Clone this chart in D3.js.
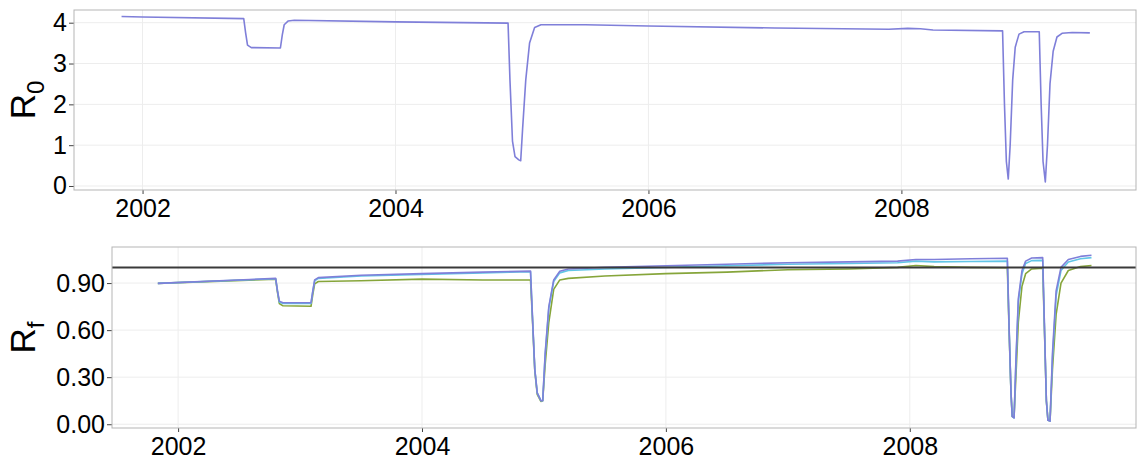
<!DOCTYPE html>
<html>
<head>
<meta charset="utf-8">
<script src="https://cdn.jsdelivr.net/npm/d3@7"></script>
<style>
  body { margin: 0; background: #fff; }
  text { font-family: "Liberation Sans", Arial, sans-serif; }
</style>
</head>
<body>
<svg id="chart" width="1139" height="463"></svg>
<script>
// ---- data (decimal years) ----
const r0Years = [2001.834, 2002.0, 2002.80, 2002.815, 2002.83, 2002.86, 2003.09, 2003.105, 2003.12, 2003.15, 2003.2,
  2004.0, 2004.89, 2004.905, 2004.925, 2004.945, 2004.975, 2004.99, 2005.005, 2005.03, 2005.06, 2005.1, 2005.15,
  2005.5, 2006.0, 2007.0, 2007.9, 2008.05, 2008.15, 2008.25, 2008.80, 2008.815, 2008.83, 2008.845, 2008.86,
  2008.88, 2008.9, 2008.93, 2008.97, 2009.09, 2009.105, 2009.12, 2009.138, 2009.155, 2009.175, 2009.2, 2009.23,
  2009.27, 2009.35, 2009.49];
const r0Values = [4.15, 4.14, 4.10, 3.75, 3.45, 3.39, 3.38, 3.70, 3.95, 4.04, 4.06,
  4.02, 3.99, 2.60, 1.10, 0.72, 0.64, 0.62, 1.40, 2.60, 3.50, 3.88, 3.95,
  3.95, 3.92, 3.87, 3.84, 3.86, 3.85, 3.82, 3.80, 2.00, 0.60, 0.17, 1.00,
  2.60, 3.40, 3.72, 3.78, 3.78, 2.00, 0.60, 0.10, 1.00, 2.50, 3.30, 3.65,
  3.74, 3.76, 3.75];

const rfYears = [2001.834, 2002.80, 2002.815, 2002.83, 2002.86, 2003.09, 2003.105, 2003.12, 2003.15, 2003.5,
  2004.0, 2004.5, 2004.89, 2004.905, 2004.925, 2004.945, 2004.975, 2004.99, 2005.01, 2005.04, 2005.08, 2005.13,
  2005.2, 2005.5, 2006.0, 2006.5, 2007.0, 2007.5, 2007.9, 2008.05, 2008.2, 2008.5, 2008.80, 2008.815, 2008.83,
  2008.84, 2008.855, 2008.87, 2008.89, 2008.92, 2008.95, 2009.0, 2009.09, 2009.105, 2009.12, 2009.133, 2009.15,
  2009.17, 2009.2, 2009.24, 2009.3, 2009.4, 2009.49];
const rfGreen = [0.898, 0.925, 0.84, 0.77, 0.755, 0.752, 0.83, 0.895, 0.91, 0.915,
  0.925, 0.92, 0.92, 0.68, 0.34, 0.19, 0.145, 0.15, 0.38, 0.65, 0.86, 0.92,
  0.93, 0.945, 0.96, 0.97, 0.985, 0.99, 1.0, 1.012, 1.005, 1.0, 0.998, 0.58, 0.2,
  0.05, 0.045, 0.3, 0.65, 0.88, 0.96, 0.99, 0.995, 0.58, 0.15, 0.025, 0.022,
  0.35, 0.7, 0.9, 0.98, 1.005, 1.012];
const rfCyan = [0.898, 0.928, 0.85, 0.78, 0.77, 0.77, 0.85, 0.915, 0.93, 0.945,
  0.955, 0.965, 0.972, 0.7, 0.35, 0.2, 0.15, 0.15, 0.44, 0.74, 0.91, 0.965,
  0.98, 0.99, 1.0, 1.01, 1.02, 1.025, 1.03, 1.04, 1.035, 1.038, 1.04, 0.6, 0.2,
  0.05, 0.04, 0.38, 0.78, 0.96, 1.025, 1.043, 1.045, 0.6, 0.15, 0.025, 0.02,
  0.42, 0.82, 0.98, 1.035, 1.055, 1.062];
const rfPurple = [0.898, 0.930, 0.85, 0.785, 0.775, 0.775, 0.85, 0.92, 0.935, 0.95,
  0.96, 0.97, 0.976, 0.7, 0.35, 0.2, 0.15, 0.15, 0.45, 0.75, 0.92, 0.975,
  0.99, 1.0, 1.01, 1.02, 1.03, 1.035, 1.04, 1.05, 1.05, 1.055, 1.058, 0.6, 0.2,
  0.05, 0.04, 0.4, 0.8, 0.98, 1.04, 1.06, 1.062, 0.6, 0.15, 0.025, 0.02,
  0.45, 0.85, 1.0, 1.05, 1.07, 1.077];

const yearTicks = [2002, 2004, 2006, 2008];
const r0Ticks = [0, 1, 2, 3, 4];
const rfTicks = [0, 0.3, 0.6, 0.9];
const refLine = 1;

const svg = d3.select("#chart");

// draw one ggplot-like panel
function panel(opts) {
  const x = d3.scaleLinear().domain([2001.458, 2009.855]).range([opts.left, opts.right]);
  const y = d3.scaleLinear().domain(opts.yDomain).range([opts.bottom, opts.top]);
  const g = svg.append("g");

  // grid
  g.selectAll(".gx").data(yearTicks).enter().append("line")
    .attr("x1", d => x(d)).attr("x2", d => x(d))
    .attr("y1", opts.top).attr("y2", opts.bottom)
    .attr("stroke", "#ededed").attr("stroke-width", 1);
  g.selectAll(".gy").data(opts.yTicks).enter().append("line")
    .attr("x1", opts.left).attr("x2", opts.right)
    .attr("y1", d => y(d)).attr("y2", d => y(d))
    .attr("stroke", "#ededed").attr("stroke-width", 1);

  // axes
  const ax = g.append("g").attr("transform", `translate(0,${opts.bottom})`)
    .call(d3.axisBottom(x).tickValues(yearTicks).tickFormat(d3.format("d")).tickSize(4).tickPadding(5));
  const ay = g.append("g").attr("transform", `translate(${opts.left},0)`)
    .call(d3.axisLeft(y).tickValues(opts.yTicks).tickFormat(opts.fmt).tickSize(5).tickPadding(2));
  [ax, ay].forEach(a => {
    a.select(".domain").remove();
    a.selectAll(".tick line").attr("stroke", "#444");
    a.selectAll(".tick text").attr("fill", "#000").style("font-size", "25px");
  });

  // series
  const line = d3.line().x(d => x(d[0])).y(d => y(d[1]));
  opts.series.forEach(s => {
    g.append("path")
      .datum(opts.years.map((t, i) => [t, s.values[i]]))
      .attr("d", line)
      .attr("fill", "none")
      .attr("stroke", s.color)
      .attr("stroke-width", 1.6)
      .attr("stroke-linejoin", "round");
  });

  if (opts.hline !== undefined) {
    g.append("line")
      .attr("x1", opts.left).attr("x2", opts.right)
      .attr("y1", y(opts.hline)).attr("y2", y(opts.hline))
      .attr("stroke", "#3a3a3a").attr("stroke-width", 2);
  }

  // border
  g.append("rect")
    .attr("x", opts.left).attr("y", opts.top)
    .attr("width", opts.right - opts.left).attr("height", opts.bottom - opts.top)
    .attr("fill", "none").attr("stroke", "#b5b5b5").attr("stroke-width", 1);

  // axis title
  const t = svg.append("text")
    .attr("transform", `translate(35,${(opts.top + opts.bottom) / 2}) rotate(-90)`)
    .attr("text-anchor", "middle")
    .style("font-size", "35px").attr("fill", "#000");
  t.append("tspan").text("R");
  t.append("tspan").attr("dy", 9).style("font-size", "24px").text(opts.sub);
}

panel({
  left: 74, right: 1136, top: 10, bottom: 190,
  yDomain: [-0.098, 4.311], yTicks: r0Ticks, fmt: d3.format("d"),
  years: r0Years,
  series: [{ values: r0Values, color: "#7f7fd9" }],
  sub: "0"
});

panel({
  left: 112, right: 1136, top: 247, bottom: 428,
  yDomain: [-0.024, 1.13], yTicks: rfTicks, fmt: d3.format(".2f"),
  years: rfYears,
  series: [
    { values: rfGreen, color: "#86a53a" },
    { values: rfCyan, color: "#62c6e6" },
    { values: rfPurple, color: "#7f7fd9" }
  ],
  hline: refLine,
  sub: "f"
});
</script>
</body>
</html>
